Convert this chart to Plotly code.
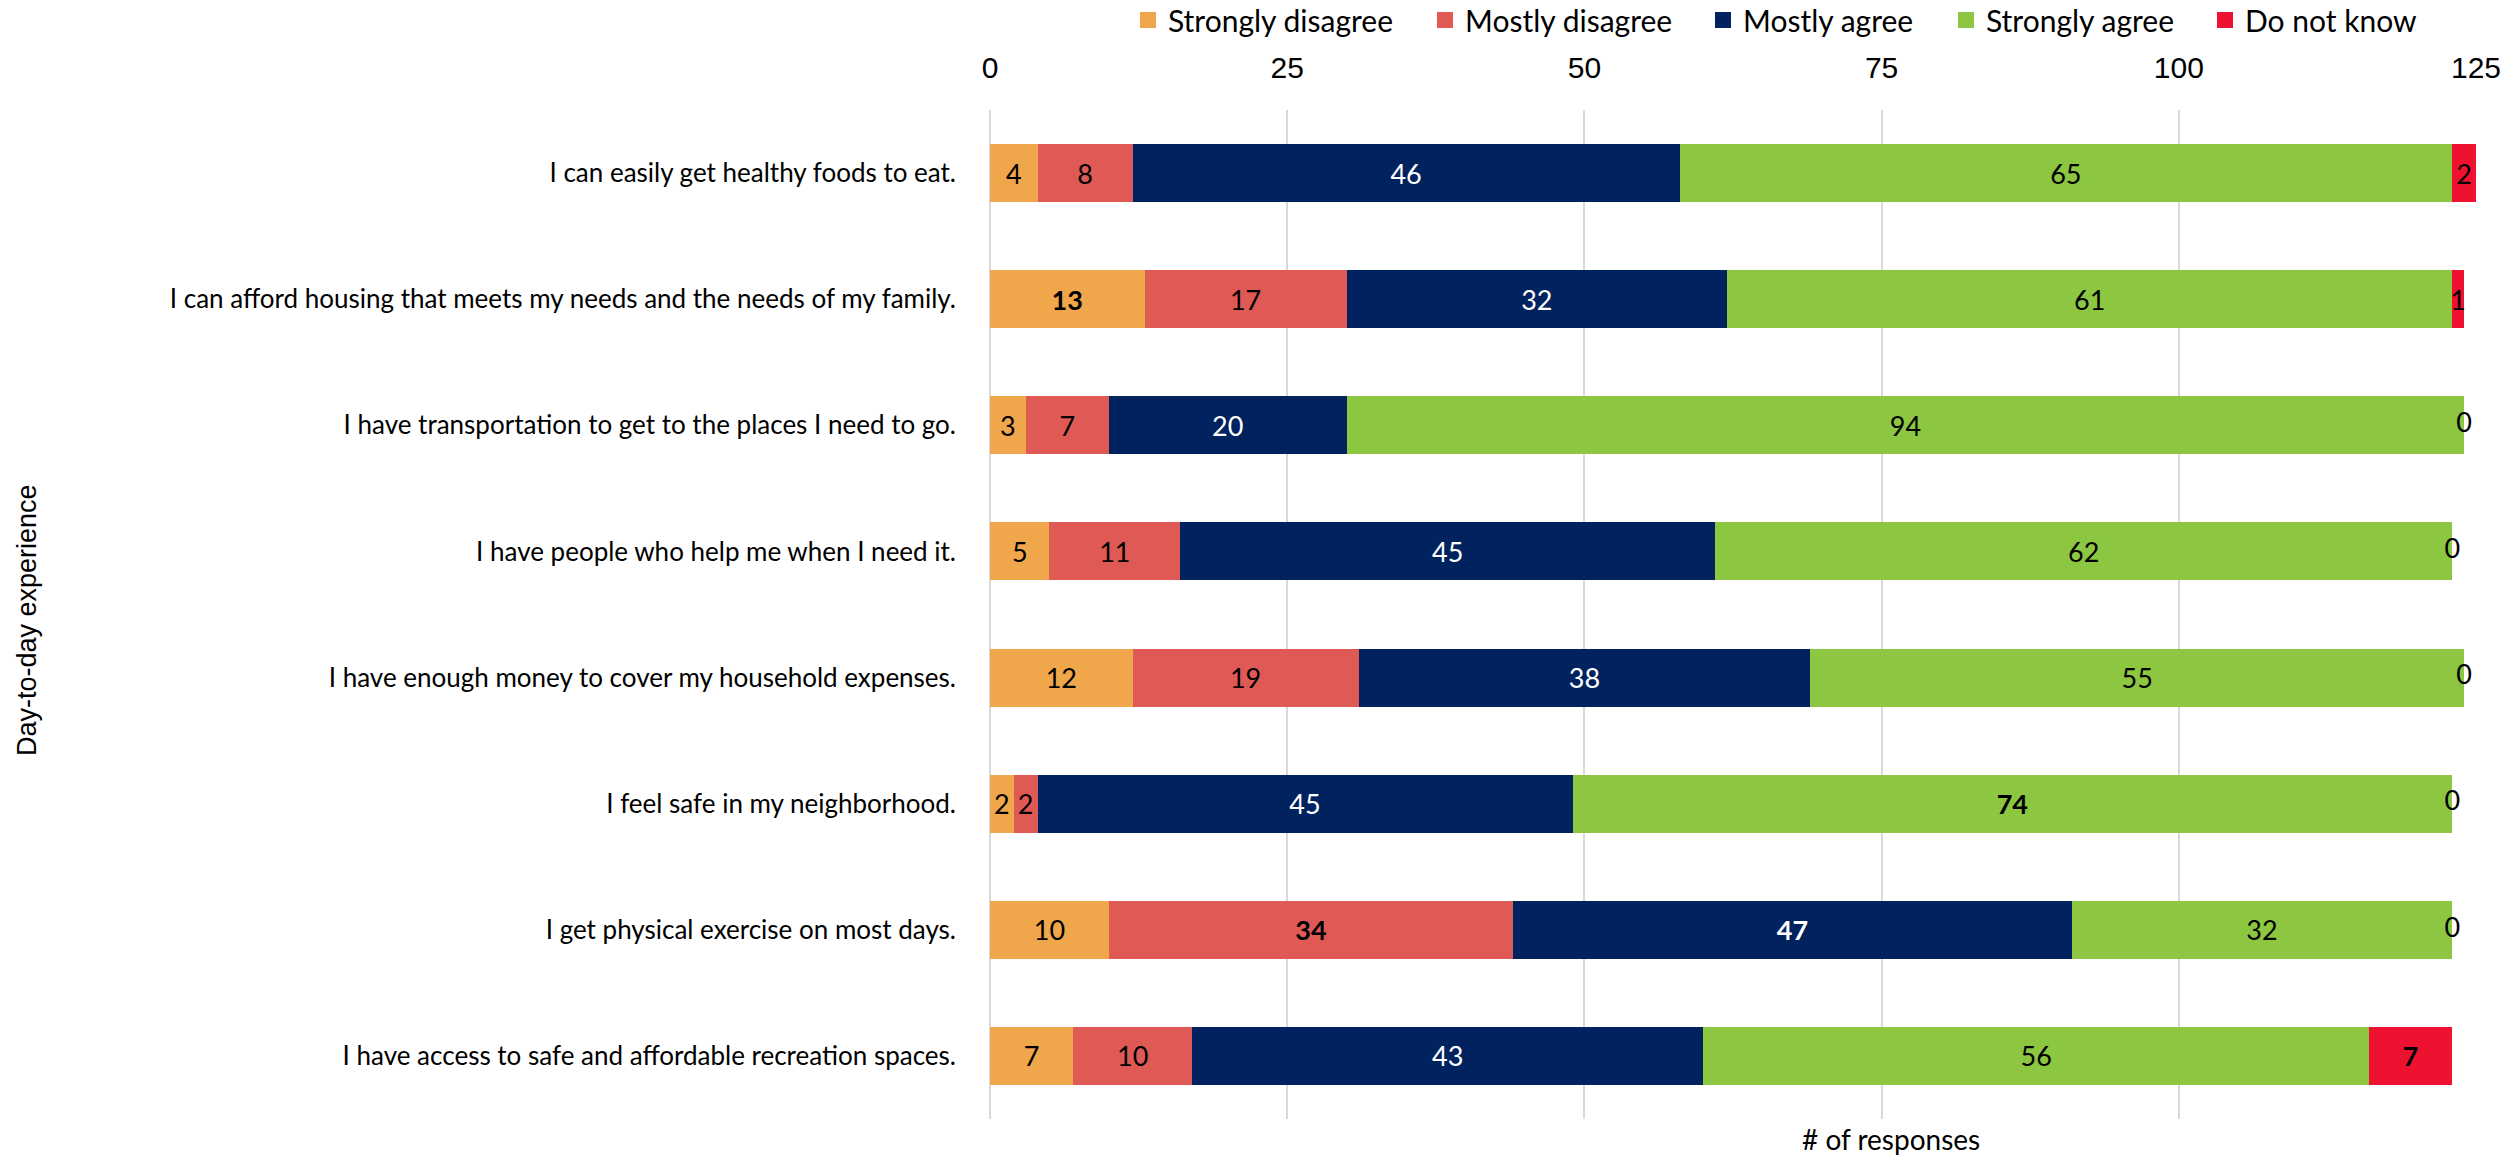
import plotly.graph_objects as go

categories = [
    "I can easily get healthy foods to eat.",
    "I can afford housing that meets my needs and the needs of my family.",
    "I have transportation to get to the places I need to go.",
    "I have people who help me when I need it.",
    "I have enough money to cover my household expenses.",
    "I feel safe in my neighborhood.",
    "I get physical exercise on most days.",
    "I have access to safe and affordable recreation spaces.",
]
series_names = ["Strongly disagree", "Mostly disagree", "Mostly agree", "Strongly agree", "Do not know"]
strongly_disagree = [4, 13, 3, 5, 12, 2, 10, 7]
mostly_disagree = [8, 17, 7, 11, 19, 2, 34, 10]
mostly_agree = [46, 32, 20, 45, 38, 45, 47, 43]
strongly_agree = [65, 61, 94, 62, 55, 74, 32, 56]
do_not_know = [2, 1, 0, 0, 0, 0, 0, 7]
# which labels are shown bold (series index, category index)
bold_labels = {(0, 1), (3, 5), (1, 6), (2, 6), (4, 7)}
x_ticks = [0, 25, 50, 75, 100, 125]

colors = ["#F0A64A", "#E05A55", "#002360", "#8DC641", "#EE1230"]
text_colors = ["#000000", "#000000", "#FFFFFF", "#000000", "#000000"]

CAL = "Lato, Calibri, sans-serif"
ARI = "Liberation Sans, Arial, sans-serif"

all_series = [strongly_disagree, mostly_disagree, mostly_agree, strongly_agree, do_not_know]

W, H = 2509, 1158
L, T, PW, PH = 990, 110, 1486, 1009
# legend entry left edges (pixels)
legend_left = [1128, 1425, 1703, 1946, 2205]
legend_ids = ["legend", "legend2", "legend3", "legend4", "legend5"]

fig = go.Figure()
for si, (name, vals) in enumerate(zip(series_names, all_series)):
    texts = []
    for ci, v in enumerate(vals):
        if v == 0:
            texts.append("")
        elif (si, ci) in bold_labels:
            texts.append(f"<b>{v}</b>")
        else:
            texts.append(str(v))
    fig.add_trace(go.Bar(
        name=name, y=categories, x=vals, orientation="h",
        marker=dict(color=colors[si], line=dict(width=0)),
        text=texts, textposition="inside", insidetextanchor="middle",
        textangle=0, constraintext="none",
        textfont=dict(family=CAL, size=27, color=text_colors[si]),
        hoverinfo="x+y+name", showlegend=False,
    ))

# legend swatches (square markers)
for si, name in enumerate(series_names):
    fig.add_trace(go.Scatter(
        name=name, x=[None], y=[None], mode="markers",
        marker=dict(symbol="square", size=18, color=colors[si]),
        legend=legend_ids[si], showlegend=True, hoverinfo="skip",
    ))

# zero-value "Do not know" labels at the bar end
totals = [sum(s[i] for s in all_series) for i in range(len(categories))]
zx, zy, zt = [], [], []
for ci, v in enumerate(do_not_know):
    if v == 0:
        zx.append(totals[ci]); zy.append(categories[ci]); zt.append(str(v))
fig.add_trace(go.Scatter(
    x=zx, y=zy, text=zt, mode="text", showlegend=False, cliponaxis=False,
    textposition="middle center",
    textfont=dict(family=CAL, size=27, color="#000000"), hoverinfo="skip",
))

legend_style = dict(
    orientation="h", xanchor="left", y=1 + (T + 6) / PH, yanchor="top",
    font=dict(family=CAL, size=30, color="#000000"),
    itemsizing="trace", itemwidth=30, bgcolor="rgba(0,0,0,0)",
)
legends = {}
for i, lid in enumerate(legend_ids):
    legends[lid] = dict(legend_style, x=(legend_left[i] - L) / PW)

fig.update_layout(
    width=W, height=H,
    barmode="stack", bargap=0.54,
    paper_bgcolor="white", plot_bgcolor="white",
    margin=dict(l=L, r=W - L - PW, t=T, b=H - T - PH, autoexpand=False),
    font=dict(family=CAL, size=26, color="#000000"),
    xaxis=dict(
        side="top", range=[0, 125], tickvals=x_ticks,
        showgrid=True, gridcolor="#D9D9D9", gridwidth=1.5,
        zeroline=True, zerolinecolor="#D9D9D9", zerolinewidth=1.5,
        showline=False, ticks="",
        tickfont=dict(family=ARI, size=30, color="#000000"),
        ticklabelstandoff=25, automargin=False,
    ),
    yaxis=dict(
        autorange="reversed", showgrid=False, showline=False, ticks="",
        tickfont=dict(family=CAL, size=26, color="#000000"),
        ticklabelstandoff=33, automargin=False,
    ),
    annotations=[
        dict(text="# of responses", xref="paper", yref="paper",
             x=(1891 - L) / PW, y=-(1139 - T - PH) / PH, xanchor="center", yanchor="middle",
             showarrow=False, font=dict(family=CAL, size=28, color="#000000")),
        dict(text="Day-to-day experience", xref="paper", yref="paper",
             x=(27 - L) / PW, y=1 - (620 - T) / PH, xanchor="center", yanchor="middle", textangle=-90,
             showarrow=False, font=dict(family=ARI, size=27, color="#000000")),
    ],
    **legends,
)

fig.write_html("out.html", config={"displayModeBar": False},
               post_script="document.body.style.margin='0px';")
